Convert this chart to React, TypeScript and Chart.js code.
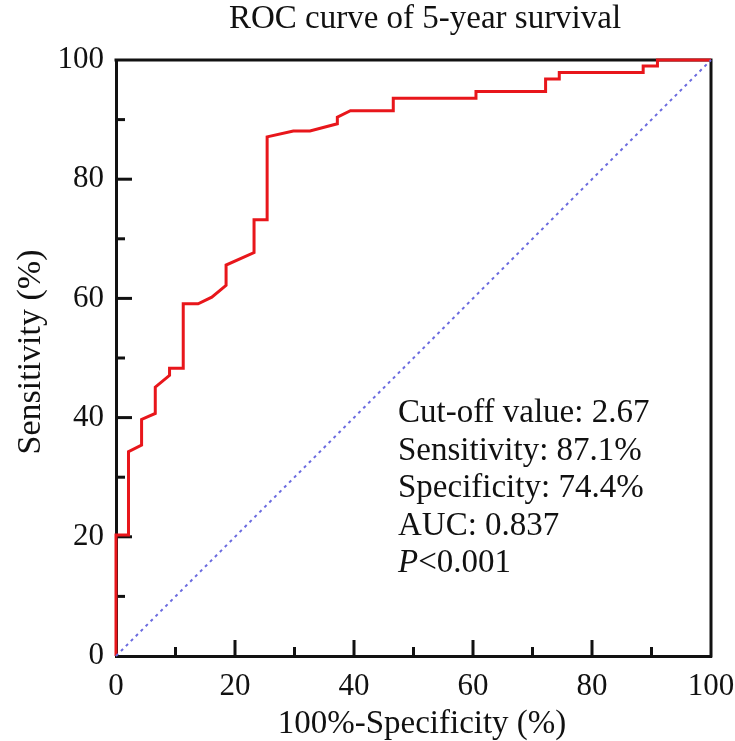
import React, { useEffect, useRef } from "react";
import { Chart, registerables } from "chart.js";

Chart.register(...registerables);

// ROC curve (1 - specificity, sensitivity), in %
const fpr = [0, 0, 2.1, 2.1, 4.3, 4.3, 6.6, 6.6, 9.0, 9.0, 11.3, 11.3, 13.8, 16.1, 18.5, 18.5, 23.2, 23.2, 25.4, 25.4, 29.8, 32.6, 37.2, 37.2, 39.4, 46.6, 46.6, 60.5, 60.5, 72.2, 72.2, 74.5, 74.5, 88.6, 88.6, 91.0, 91.0, 100];
const tpr = [0, 20.3, 20.3, 34.3, 35.4, 39.7, 40.7, 45.1, 47.1, 48.3, 48.3, 59.1, 59.1, 60.2, 62.2, 65.6, 67.7, 73.2, 73.2, 87.1, 88.1, 88.1, 89.3, 90.4, 91.5, 91.5, 93.6, 93.6, 94.7, 94.7, 96.8, 96.8, 97.9, 97.9, 99.0, 99.0, 100, 100];
const refLine = [0, 100];

const majorTicks = [20, 40, 60, 80];
const minorTicks = [10, 30, 50, 70, 90];

const chartTitle = "ROC curve of 5-year survival";
const xTitle = "100%-Specificity (%)";
const yTitle = "Sensitivity (%)";
const statLines = ["Cut-off value: 2.67", "Sensitivity: 87.1%", "Specificity: 74.4%", "AUC: 0.837"];
const pValue = "<0.001";

const FONT = "'Liberation Serif', 'Times New Roman', serif";

const framePlugin = {
	id: "frame",
	beforeDatasetsDraw(chart: any) {
		const { ctx, chartArea } = chart;
		const xs = chart.scales.x;
		const ys = chart.scales.y;
		ctx.save();
		ctx.strokeStyle = "#111";
		ctx.lineWidth = 3;
		ctx.beginPath();
		ctx.moveTo(chartArea.left - 1.5, chartArea.top);
		ctx.lineTo(chartArea.right, chartArea.top);
		ctx.lineTo(chartArea.right, chartArea.bottom + 1.5);
		ctx.stroke();
		// inward ticks
		const tick = (v: number, len: number) => {
			const px = xs.getPixelForValue(v);
			ctx.beginPath();
			ctx.moveTo(px, chartArea.bottom);
			ctx.lineTo(px, chartArea.bottom - len);
			ctx.stroke();
			const py = ys.getPixelForValue(v);
			ctx.beginPath();
			ctx.moveTo(chartArea.left, py);
			ctx.lineTo(chartArea.left + len, py);
			ctx.stroke();
		};
		majorTicks.forEach((v) => tick(v, 16));
		minorTicks.forEach((v) => tick(v, 9));
		ctx.restore();
	},
	afterDraw(chart: any) {
		const { ctx } = chart;
		ctx.save();
		ctx.fillStyle = "#111";
		ctx.textAlign = "center";
		ctx.textBaseline = "alphabetic";
		ctx.font = `33px ${FONT}`;
		ctx.fillText(chartTitle, 425, 28);
		ctx.fillText(xTitle, 422, 733);
		ctx.save();
		ctx.translate(40, 352);
		ctx.rotate(-Math.PI / 2);
		ctx.font = `34px ${FONT}`;
		ctx.fillText(yTitle, 0, 0);
		ctx.restore();
		ctx.textAlign = "left";
		ctx.font = `33px ${FONT}`;
		statLines.forEach((s, i) => ctx.fillText(s, 398, 422 + i * 37.5));
		const py = 422 + statLines.length * 37.5;
		ctx.font = `italic 33px ${FONT}`;
		ctx.fillText("P", 398, py);
		const w = ctx.measureText("P").width;
		ctx.font = `33px ${FONT}`;
		ctx.fillText(pValue, 398 + w, py);
		ctx.restore();
	},
};

const RocChart = () => {
	const chartRef = useRef<HTMLCanvasElement>(null);
	const chartInstance = useRef<Chart | null>(null);

	useEffect(() => {
		if (!chartRef.current) return;
		const ctx = chartRef.current.getContext("2d");
		if (!ctx) return;
		if (chartInstance.current) chartInstance.current.destroy();

		const axis = (fit: (s: any) => void) => ({
			type: "linear" as const,
			min: 0,
			max: 100,
			grid: { display: false, drawTicks: false },
			border: { display: true, color: "#111", width: 3 },
			ticks: {
				stepSize: 20,
				padding: 12,
				color: "#111",
				font: { family: FONT, size: 31 },
			},
			afterFit: fit,
		});

		chartInstance.current = new Chart(ctx, {
			type: "line",
			data: {
				datasets: [
					{
						label: "Reference",
						data: refLine.map((v) => ({ x: v, y: v })),
						borderColor: "#6b6bdf",
						borderWidth: 2,
						borderDash: [3, 4],
						pointRadius: 0,
						clip: false,
					},
					{
						label: "ROC",
						data: fpr.map((v, i) => ({ x: v, y: tpr[i] })),
						borderColor: "#e8161b",
						borderWidth: 3,
						pointRadius: 0,
						tension: 0,
						clip: false,
					},
				],
			},
			options: {
				animation: false,
				responsive: true,
				maintainAspectRatio: false,
				layout: { padding: { top: 60, right: 24, left: 0, bottom: 0 } },
				plugins: { legend: { display: false }, tooltip: { enabled: false } },
				scales: {
					x: axis((s) => {
						s.height = 85;
						s.paddingLeft = 0;
						s.paddingRight = 0;
					}),
					y: axis((s) => {
						s.width = 116;
						s.paddingTop = 0;
						s.paddingBottom = 0;
					}),
				},
			},
			plugins: [framePlugin],
		});

		return () => {
			if (chartInstance.current) {
				chartInstance.current.destroy();
				chartInstance.current = null;
			}
		};
	}, []);

	return (
		<div style={{ position: "absolute", left: 0, top: 0, width: 735, height: 741, background: "#fff" }}>
			<canvas ref={chartRef} />
		</div>
	);
};

export default function App() {
	return <RocChart />;
}
